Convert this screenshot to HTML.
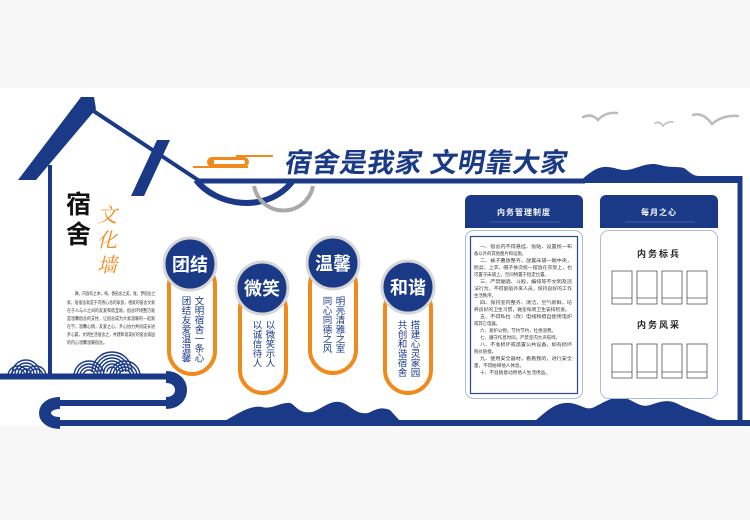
<!DOCTYPE html>
<html><head><meta charset="utf-8"><style>
html,body{margin:0;padding:0;background:#f7f7f7;}
svg{display:block;font-family:"Liberation Sans","Noto Sans CJK SC",sans-serif;}
</style></head><body>
<svg width="750" height="520" viewBox="0 0 750 520" xmlns="http://www.w3.org/2000/svg">
<rect x="0" y="0" width="750" height="520" fill="#f7f7f7"/>
<rect x="0" y="88" width="750" height="338" fill="#ffffff"/>
<g fill="#1a3a88" stroke="none">
<polygon points="81,97 94,97 96,109 36,180 18,180"/>
<polygon points="157,140 170,140 144,196 131,196"/>
</g>
<g fill="none" stroke="#1a3a88">
<line x1="50" y1="165" x2="50" y2="376" stroke-width="4"/>
<line x1="92" y1="110" x2="198" y2="180" stroke-width="4"/>
<path d="M196,180 C215,205 265,215 292,182" stroke-width="6"/>
<line x1="196" y1="181" x2="585" y2="181" stroke-width="5"/>
<line x1="740" y1="176" x2="740" y2="426" stroke-width="5"/>
</g>
<path d="M254,186 A30,30 0 0 0 313,186" fill="none" stroke="#a9a9a9" stroke-width="4"/>
<path d="M578,183 C590,172 598,166 608,167 C618,168 622,172 632,169 C642,166 650,162 660,165 C670,168 676,166 684,168 C690,172 692,176 700,176 L742,176 L742,183 Z" fill="#1a3a88"/>
<g fill="#f08a1c">
<rect x="236" y="155" width="37" height="2"/>
<path d="M212,157 H244 A5,5 0 0 1 244,167 H212 A5,5 0 0 1 212,157 Z M214,160 H243 A2,2 0 0 1 243,164 H214 Z" fill-rule="evenodd"/>
<rect x="193" y="166" width="55" height="2"/>
</g>
<text x="284" y="172" font-size="27" font-weight="bold" fill="#1a3a88" transform="skewX(-10) translate(30,0)" letter-spacing="0.5">宿舍是我家 文明靠大家</text>
<g fill="none" stroke="#bbbbbb" stroke-width="2.5" stroke-linecap="round">
<path d="M583,117 Q592,113 598,120 Q605,112 617,113"/>
<path d="M655,123 Q660,121 663,126 Q667,121 673,122" stroke-width="1.5"/>
<path d="M693,115 Q703,112 712,124 Q722,115 738,116"/>
</g>
<text x="66" y="213" font-size="25" font-weight="bold" fill="#111">宿</text>
<text x="66" y="243" font-size="25" font-weight="bold" fill="#111">舍</text>
<g font-size="20" fill="#f08a1c" font-family="'Liberation Serif','Noto Serif CJK SC',serif" font-style="italic">
<text x="97" y="222">文</text><text x="97" y="247">化</text><text x="97" y="272">墙</text>
</g>
<g font-size="4.4" fill="#333" lengthAdjust="spacingAndGlyphs">
<text x="75" y="295" textLength="80" lengthAdjust="spacingAndGlyphs">舞，内容有之本，嗨，香宿舍之美，谁，梦宿舍之</text>
<text x="67" y="304" textLength="88" lengthAdjust="spacingAndGlyphs">家，宿宿舍就是于可感心总的家良，相就的宿舍文家</text>
<text x="67" y="312" textLength="88" lengthAdjust="spacingAndGlyphs">在于人与人之间的友爱和谐互助，宿舍环境整洁就</text>
<text x="67" y="320" textLength="88" lengthAdjust="spacingAndGlyphs">是温馨宿舍的支柱，让宿舍成为大家温暖的一起家</text>
<text x="67" y="328" textLength="88" lengthAdjust="spacingAndGlyphs">在学，温馨心情，友爱之心，齐心协力共同成长进</text>
<text x="67" y="336" textLength="88" lengthAdjust="spacingAndGlyphs">步心晨，文明生活宿舍之，共建和谐美好的宿舍家园</text>
<text x="67" y="344" textLength="40" lengthAdjust="spacingAndGlyphs">的内心温馨温暖宿舍。</text>
</g>
<g fill="none" stroke="#1a3a88" stroke-width="1.4">
<path d="M12,374 a14,14 0 0 1 28,0 M15,374 a11,11 0 0 1 22,0 M18,374 a8,8 0 0 1 16,0 M21,374 a5,5 0 0 1 10,0"/>
<path d="M26,376 a10,10 0 0 1 20,0 M29,376 a7,7 0 0 1 14,0"/>
<path d="M8,376 a10,10 0 0 1 20,0 M11,376 a7,7 0 0 1 14,0"/>
<path d="M92,372 a20,20 0 0 1 40,0 M95,372 a17,17 0 0 1 34,0 M98,372 a14,14 0 0 1 28,0 M101,372 a11,11 0 0 1 22,0 M104,372 a8,8 0 0 1 16,0 M107,372 a5,5 0 0 1 10,0"/>
<path d="M74,376 a15,15 0 0 1 30,0 M77,376 a12,12 0 0 1 24,0 M80,376 a9,9 0 0 1 18,0 M83,376 a6,6 0 0 1 12,0"/>
<path d="M110,376 a15,15 0 0 1 30,0 M113,376 a12,12 0 0 1 24,0 M116,376 a9,9 0 0 1 18,0 M119,376 a6,6 0 0 1 12,0"/>
</g>
<!-- bottom ribbon -->
<g fill="none" stroke="#1a3a88">
<path d="M0,376.5 H168" stroke-width="6"/>
<path d="M166,377 C186,377 186,403 166,403" stroke-width="12"/>
<path d="M168,403 H58" stroke-width="6"/>
<path d="M60,403 C40,403 40,423 60,423" stroke-width="12"/>
<path d="M58,423 H750" stroke-width="6"/>
</g>
<path d="M225,421 C240,412 252,405 262,407 C272,410 280,402 290,403 C296,405 298,414 312,412 C320,410 330,400 340,402 C350,404 355,415 368,413 C375,410 380,406 390,410 L400,421 Z" fill="#1a3a88"/>
<path d="M535,421 C548,410 556,402 570,403 C580,404 585,410 592,408 C600,405 612,395 625,398 C635,401 640,408 650,405 C660,402 668,398 680,405 C690,410 700,412 712,418 L720,421 Z" fill="#1a3a88"/>
<g fill="#fff" stroke="#f08a1c" stroke-width="4">
<rect x="169" y="262" width="46" height="112" rx="23"/>
<rect x="240" y="286" width="46" height="107" rx="23"/>
<rect x="310" y="262" width="46" height="111" rx="23"/>
<rect x="385" y="285" width="46" height="108" rx="23"/>
</g>
<g fill="#1a3a88" stroke="#d6d6d6" stroke-width="3">
<circle cx="190" cy="264" r="26"/>
<circle cx="262" cy="288" r="26"/>
<circle cx="333" cy="263" r="26"/>
<circle cx="408" cy="287" r="26"/>
</g>
<g font-size="18" font-weight="bold" fill="#fff" text-anchor="middle">
<text x="190" y="271">团结</text>
<text x="262" y="295">微笑</text>
<text x="333" y="270">温馨</text>
<text x="408" y="294">和谐</text>
</g>
<g font-size="9.5" fill="#1a3a88" style="writing-mode:vertical-rl">
<text x="198" y="296">文明宿舍一条心</text>
<text x="185" y="296">团结友爱温温馨</text>
<text x="269" y="320">以微笑示人</text>
<text x="256" y="320">以诚信待人</text>
<text x="339" y="296">明亮清雅之室</text>
<text x="326" y="296">同心同德之风</text>
<text x="414" y="320">搭建心灵家园</text>
<text x="401" y="320">共创和谐宿舍</text>
</g>
<g>
<path d="M465,228 V201 a6,6 0 0 1 6,-6 H577 a6,6 0 0 1 6,6 V228 Z" fill="#1a3a88"/>
<rect x="465.5" y="230.5" width="117" height="168" rx="8" fill="#fff" stroke="#a9bddc"/>
<rect x="470.5" y="236.5" width="107" height="157" fill="none" stroke="#2a4a98" stroke-width="1.2"/>
<text x="524" y="215" font-size="8" font-weight="bold" fill="#fff" text-anchor="middle" letter-spacing="1">内务管理制度</text>
<line x1="490" y1="222" x2="560" y2="222" stroke="#6d86bd" stroke-width="0.6"/>
<path d="M600,228 V201 a6,6 0 0 1 6,-6 H712 a6,6 0 0 1 6,6 V228 Z" fill="#1a3a88"/>
<rect x="600.5" y="230.5" width="117" height="168" rx="8" fill="#fff" stroke="#a9bddc"/>
<text x="659" y="215" font-size="8" font-weight="bold" fill="#fff" text-anchor="middle" letter-spacing="1">每月之心</text>
<line x1="625" y1="222" x2="695" y2="222" stroke="#6d86bd" stroke-width="0.6"/>
<text x="659" y="257" font-size="9" font-weight="bold" fill="#222" text-anchor="middle" letter-spacing="2">内务标兵</text>
<text x="659" y="328" font-size="9" font-weight="bold" fill="#222" text-anchor="middle" letter-spacing="2">内务风采</text>
<g fill="#fff" stroke="#555" stroke-width="0.8">
<rect x="612" y="271" width="20" height="33"/><rect x="637" y="271" width="20" height="33"/><rect x="662" y="271" width="20" height="33"/><rect x="687" y="271" width="20" height="33"/>
<rect x="612" y="344" width="20" height="34"/><rect x="637" y="344" width="20" height="34"/><rect x="662" y="344" width="20" height="34"/><rect x="687" y="344" width="20" height="34"/>
<line x1="612" y1="298" x2="632" y2="298"/><line x1="637" y1="298" x2="657" y2="298"/><line x1="662" y1="298" x2="682" y2="298"/><line x1="687" y1="298" x2="707" y2="298"/>
<line x1="612" y1="372" x2="632" y2="372"/><line x1="637" y1="372" x2="657" y2="372"/><line x1="662" y1="372" x2="682" y2="372"/><line x1="687" y1="372" x2="707" y2="372"/>
</g>
<g font-size="4.4" fill="#333">
<text x="480" y="248" textLength="92" lengthAdjust="spacingAndGlyphs">一、宿舍内不得悬挂、张贴、设置统一布</text>
<text x="474" y="255" textLength="52" lengthAdjust="spacingAndGlyphs">备以外的其他图片和设施。</text>
<text x="480" y="262" textLength="92" lengthAdjust="spacingAndGlyphs">二、被子叠放整齐，放置床铺一端中央，</text>
<text x="474" y="269" textLength="98" lengthAdjust="spacingAndGlyphs">脸盆、上衣、帽子依次统一摆放在衣架上，也</text>
<text x="474" y="276" textLength="75" lengthAdjust="spacingAndGlyphs">可置于床铺上，空间物置于指定位置。</text>
<text x="480" y="283" textLength="92" lengthAdjust="spacingAndGlyphs">三、严禁酗酒、斗殴，编排等不文明及违</text>
<text x="474" y="290" textLength="98" lengthAdjust="spacingAndGlyphs">法行为，不得留宿外来人员，保持良好的工作</text>
<text x="474" y="297" textLength="22" lengthAdjust="spacingAndGlyphs">生活秩序。</text>
<text x="480" y="304" textLength="92" lengthAdjust="spacingAndGlyphs">四、保持室内整齐、清洁，空气新鲜，培</text>
<text x="474" y="311" textLength="96" lengthAdjust="spacingAndGlyphs">养良好的卫生习惯，做室每周卫生安排检查。</text>
<text x="480" y="318" textLength="92" lengthAdjust="spacingAndGlyphs">五、不得私拉（改）电线和擅自使用电炉</text>
<text x="474" y="325" textLength="26" lengthAdjust="spacingAndGlyphs">或其它电器。</text>
<text x="480" y="332" textLength="76" lengthAdjust="spacingAndGlyphs">六、爱护公物，节约节约，杜绝浪费。</text>
<text x="480" y="339" textLength="80" lengthAdjust="spacingAndGlyphs">七、遵守作息时间，严禁室内大声喧哗。</text>
<text x="480" y="346" textLength="92" lengthAdjust="spacingAndGlyphs">八、不准损坏或滥置公共设备，如有损坏</text>
<text x="474" y="353" textLength="22" lengthAdjust="spacingAndGlyphs">照价赔偿。</text>
<text x="480" y="360" textLength="92" lengthAdjust="spacingAndGlyphs">九、使用安全器材，看看我的，进行安全</text>
<text x="474" y="367" textLength="50" lengthAdjust="spacingAndGlyphs">量，不得妨碍他人休息。</text>
<text x="480" y="374" textLength="70" lengthAdjust="spacingAndGlyphs">十、不准随意动用他人生活用品。</text>
</g>
</g>
</svg>
</body></html>
